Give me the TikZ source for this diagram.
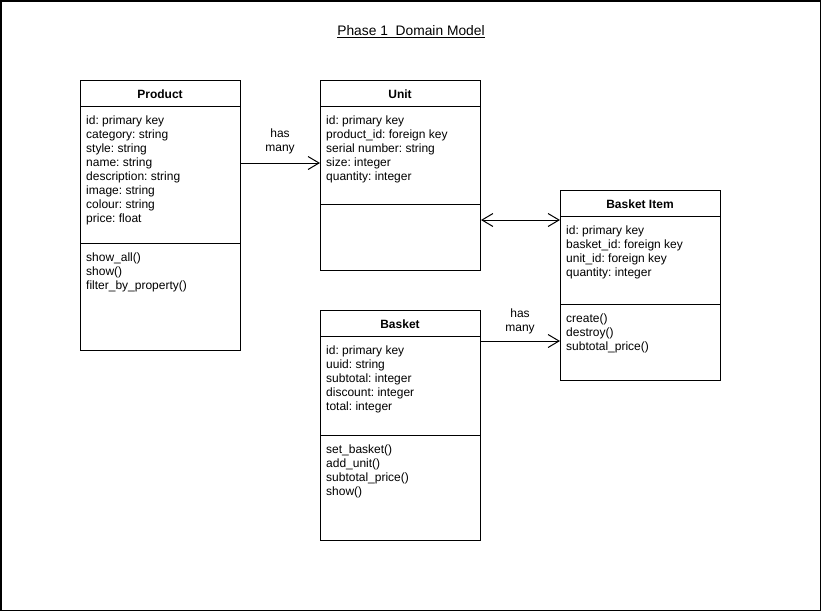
\documentclass[tikz,border=0pt]{standalone}
\usepackage{fontspec}
\setmainfont{Liberation Sans}
\frenchspacing
\usetikzlibrary{arrows.meta}
\tikzset{
  classbox/.style={draw=black, line width=1pt, fill=white, inner sep=0pt, anchor=north west},
  classtitle/.style={font=\fontsize{12}{14}\selectfont\bfseries, inner sep=0pt, anchor=center},
  members/.style={font=\fontsize{12}{14}\selectfont, align=left, inner sep=0pt, anchor=north west},
  sepline/.style={draw=black, line width=1pt},
  assoc/.style={draw=black, line width=1pt, -{Straight Barb[length=11pt,width=13pt,line width=1pt]}},
  bothassoc/.style={draw=black, line width=1pt, {Straight Barb[length=11pt,width=13pt,line width=1pt]}-{Straight Barb[length=11pt,width=13pt,line width=1pt]}},
  assoclabel/.style={font=\fontsize{12}{14}\selectfont, align=center, inner sep=0pt},
}
\begin{document}
\begin{tikzpicture}[x=1pt,y=-1pt]
\useasboundingbox (0,0) rectangle (821,611);
\draw[line width=1.5pt] (0.75,0.75) rectangle (820.25,610.25);

% title
\node[font=\fontsize{13.8}{15}\selectfont, inner sep=0pt] (title) at (411,32) {\underline{Phase 1\ \ Domain Model}};

% Product
\node[classbox, minimum width=160pt, minimum height=270pt] (product) at (80,80) {};
\node[classtitle] (producttitle) at (160,94) {Product};
\draw[sepline] (80,106) -- (240,106);
\draw[sepline] (80,243) -- (240,243);
\node[members] (productattr) at (86,115.5) {id: primary key\\category: string\\style: string\\name: string\\description: string\\image: string\\colour: string\\price: float};
\node[members] (productops) at (86,252.5) {show\_all()\\show()\\filter\_by\_property()};

% Unit
\node[classbox, minimum width=160pt, minimum height=190pt] (unit) at (320,80) {};
\node[classtitle] (unittitle) at (400,94) {Unit};
\draw[sepline] (320,106) -- (480,106);
\draw[sepline] (320,204) -- (480,204);
\node[members] (unitattr) at (326,115.5) {id: primary key\\product\_id: foreign key\\serial number: string\\size: integer\\quantity: integer};

% Basket Item
\node[classbox, minimum width=160pt, minimum height=190pt] (item) at (560,190) {};
\node[classtitle] (itemtitle) at (640,204) {Basket Item};
\draw[sepline] (560,216) -- (720,216);
\draw[sepline] (560,304) -- (720,304);
\node[members] (itemattr) at (566,225.5) {id: primary key\\basket\_id: foreign key\\unit\_id: foreign key\\quantity: integer};
\node[members] (itemops) at (566,313.5) {create()\\destroy()\\subtotal\_price()};

% Basket
\node[classbox, minimum width=160pt, minimum height=230pt] (basket) at (320,310) {};
\node[classtitle] (baskettitle) at (400,324) {Basket};
\draw[sepline] (320,336) -- (480,336);
\draw[sepline] (320,435) -- (480,435);
\node[members] (basketattr) at (326,345.5) {id: primary key\\uuid: string\\subtotal: integer\\discount: integer\\total: integer};
\node[members] (basketops) at (326,444.5) {set\_basket()\\add\_unit()\\subtotal\_price()\\show()};

% connectors
\coordinate (r1) at (0,163);
\draw[assoc] (product.east |- r1) -- (unit.west |- r1);
\node[assoclabel] (lbl1) at (280,141) {has\\many};
\coordinate (r2) at (0,220);
\draw[bothassoc] (unit.east |- r2) -- (item.west |- r2);
\coordinate (r3) at (0,341);
\draw[assoc] (basket.east |- r3) -- (item.west |- r3);
\node[assoclabel] (lbl2) at (520,321) {has\\many};
\end{tikzpicture}
\end{document}
